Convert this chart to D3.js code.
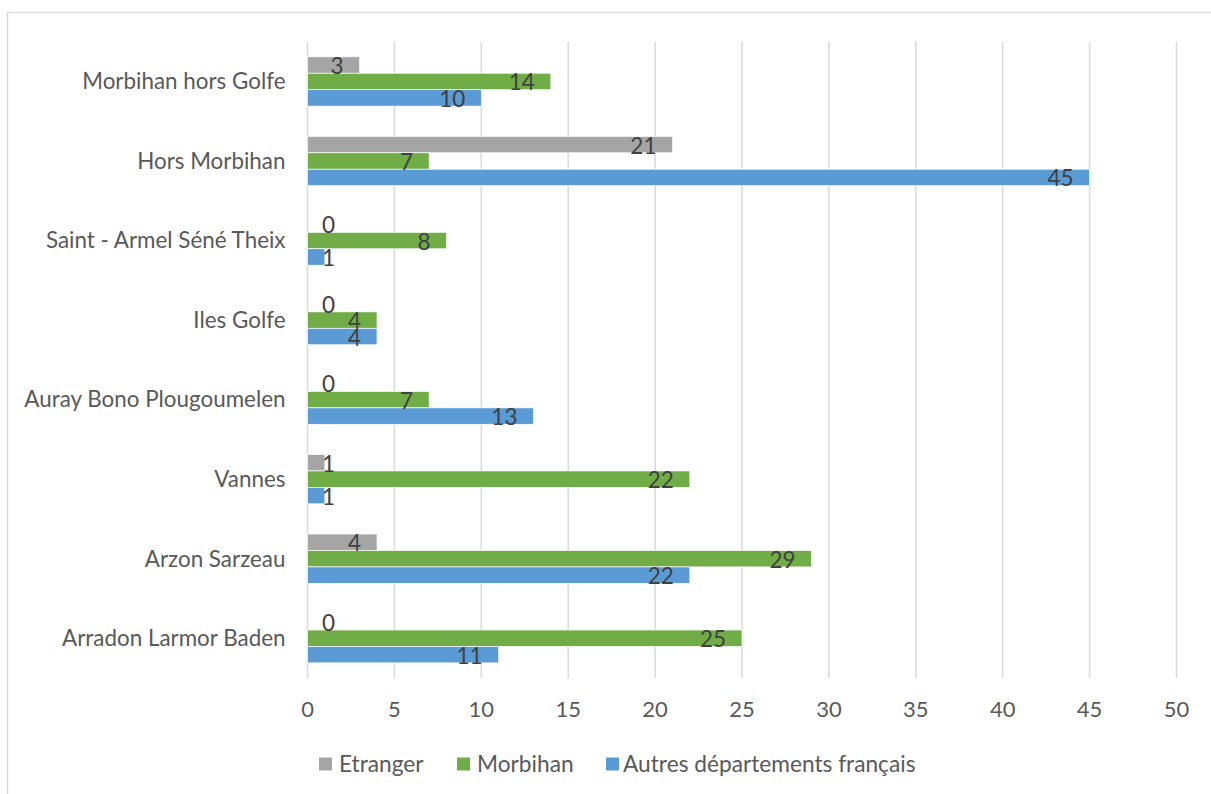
<!DOCTYPE html>
<html>
<head>
<meta charset="utf-8">
<script src="https://cdn.jsdelivr.net/npm/d3@7"></script>
<style>
  body { margin: 0; background: #fff; }
  text { font-family: Lato, "Open Sans", sans-serif; }
</style>
</head>
<body>
<div id="chart"></div>
<script>
// categories, top to bottom
var categories = ["Morbihan hors Golfe", "Hors Morbihan", "Saint - Armel Séné Theix", "Iles Golfe",
  "Auray Bono Plougoumelen", "Vannes", "Arzon Sarzeau", "Arradon Larmor Baden"];

var seriesNames = ["Etranger", "Morbihan", "Autres départements français"];
var seriesColors = ["#a5a5a5", "#70ad47", "#5b9bd5"];

var etranger = [3, 21, 0, 0, 0, 1, 4, 0];
var morbihan = [14, 7, 8, 4, 7, 22, 29, 25];
var autres = [10, 45, 1, 4, 13, 1, 22, 11];

var xTicks = [0, 5, 10, 15, 20, 25, 30, 35, 40, 45, 50];

var svgWidth = 1211;
var svgHeight = 794;
var margin = { top: 41.7, right: 34.5, bottom: 116, left: 307.5 };
var width = svgWidth - margin.left - margin.right;
var height = svgHeight - margin.top - margin.bottom;

var svg = d3.select("#chart").append("svg")
  .attr("width", svgWidth)
  .attr("height", svgHeight);

// outer chart frame (only top and left are visible in the window)
svg.append("rect")
  .attr("x", 7.5).attr("y", 12.5)
  .attr("width", 1300).attr("height", 900)
  .attr("fill", "none")
  .attr("stroke", "#d9d9d9")
  .attr("stroke-width", 1.3);

var chartGroup = svg.append("g")
  .attr("transform", `translate(${margin.left}, ${margin.top})`);

var xScale = d3.scaleLinear().domain([0, 50]).range([0, width]);

var yScale = d3.scaleBand()
  .domain(categories)
  .range([0, height])
  .paddingInner(0.38)
  .paddingOuter(0.19);

var ySub = d3.scaleBand()
  .domain(seriesNames)
  .range([0, yScale.bandwidth()]);

// gridlines
chartGroup.append("g")
  .selectAll("line")
  .data(xTicks)
  .enter()
  .append("line")
  .attr("x1", d => xScale(d))
  .attr("x2", d => xScale(d))
  .attr("y1", 0)
  .attr("y2", height)
  .attr("stroke", "#d9d9d9")
  .attr("stroke-width", 1.5);

// x tick labels
chartGroup.append("g")
  .selectAll("text")
  .data(xTicks)
  .enter()
  .append("text")
  .attr("x", d => xScale(d))
  .attr("y", height + 39.5)
  .attr("text-anchor", "middle")
  .attr("font-size", 22)
  .attr("fill", "#595959")
  .text(d => d);

// category labels
chartGroup.append("g")
  .selectAll("text")
  .data(categories)
  .enter()
  .append("text")
  .attr("x", -22)
  .attr("y", d => yScale(d) + yScale.bandwidth() / 2)
  .attr("dy", "0.35em")
  .attr("text-anchor", "end")
  .attr("font-size", 22.4)
  .attr("fill", "#595959")
  .text(d => d);

var allValues = [etranger, morbihan, autres];
var rows = [];
categories.forEach(function(c, i) {
  seriesNames.forEach(function(s, j) {
    rows.push({ cat: c, series: s, value: allValues[j][i], color: seriesColors[j] });
  });
});

// bars
chartGroup.append("g")
  .selectAll("rect")
  .data(rows)
  .enter()
  .append("rect")
  .attr("x", xScale(0))
  .attr("y", d => yScale(d.cat) + ySub(d.series))
  .attr("width", d => xScale(d.value) - xScale(0))
  .attr("height", ySub.bandwidth())
  .attr("fill", d => d.color)
  .attr("stroke", "#fff")
  .attr("stroke-width", 0.7);

// value labels, inside end, pushed out when the bar is too short
chartGroup.append("g")
  .selectAll("text")
  .data(rows)
  .enter()
  .append("text")
  .attr("x", d => Math.max(xScale(d.value) - 16, 27.5))
  .attr("y", d => yScale(d.cat) + ySub(d.series) + ySub.bandwidth() / 2)
  .attr("dy", "0.4em")
  .attr("text-anchor", "end")
  .attr("font-size", 22.5)
  .attr("fill", "#404040")
  .text(d => d.value);

// legend
var legendX = [319, 457, 606];
var legend = svg.append("g")
  .selectAll("g")
  .data(seriesNames)
  .enter()
  .append("g")
  .attr("transform", (d, i) => `translate(${legendX[i]}, 764)`);

legend.append("rect")
  .attr("x", 0).attr("y", -6.5)
  .attr("width", 13).attr("height", 13)
  .attr("fill", (d, i) => seriesColors[i]);

legend.append("text")
  .attr("x", (d, i) => i == 2 ? 17 : 20)
  .attr("y", 0)
  .attr("dy", "0.35em")
  .attr("font-size", 22.7)
  .attr("fill", "#595959")
  .text(d => d);
</script>
</body>
</html>
